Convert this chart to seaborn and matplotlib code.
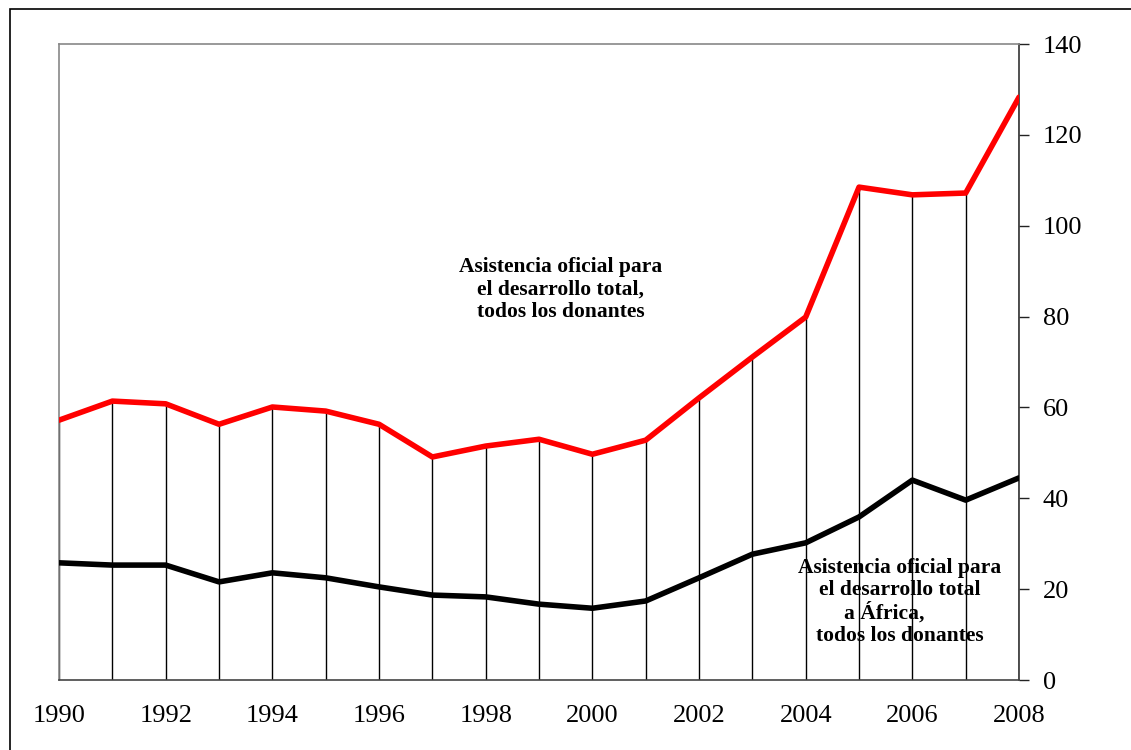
import numpy as np
import pandas as pd
import matplotlib.pyplot as plt
import seaborn as sns
from matplotlib.patches import Rectangle

years = list(range(1990, 2009))
aod_total = [57.2, 61.4, 60.8, 56.3, 60.1, 59.2, 56.3, 49.1, 51.5, 53.0, 49.7,
             52.8, 62.1, 71.1, 79.9, 108.5, 106.8, 107.2, 128.3]
aod_africa = [25.8, 25.3, 25.3, 21.6, 23.6, 22.5, 20.5, 18.7, 18.3, 16.7, 15.8,
              17.4, 22.5, 27.7, 30.2, 35.9, 44.0, 39.6, 44.5]
yticks = [0, 20, 40, 60, 80, 100, 120, 140]
xticklabels = [str(y) if y % 2 == 0 else "" for y in years]

label_total = "Asistencia oficial para\nel desarrollo total,\ntodos los donantes"
label_africa = "Asistencia oficial para\nel desarrollo total\na África,      \ntodos los donantes"

df = pd.DataFrame({"year": years, "total": aod_total, "africa": aod_africa})

sns.set_style("white")
plt.rcParams["font.family"] = ["Liberation Serif", "DejaVu Serif"]
plt.rcParams["text.color"] = "black"

fig = plt.figure(figsize=(11.31, 7.5), dpi=100)
ax = fig.add_axes([0.0522, 0.0933, 0.8488, 0.848])

# drop lines from the red series down to zero
ax.vlines(df["year"], 0, df["total"], color="black", lw=1.0, zorder=1)

sns.lineplot(data=df, x="year", y="total", color="#ff0000", lw=4, ax=ax, zorder=3)
sns.lineplot(data=df, x="year", y="africa", color="black", lw=4, ax=ax, zorder=3)

ax.set_xlim(1990, 2008)
ax.set_ylim(0, 140)
ax.set_xticks(years)
ax.set_xticklabels(xticklabels, fontsize=19)
ax.set_yticks(yticks)
ax.yaxis.tick_right()
ax.tick_params(axis="y", labelsize=19, direction="out", length=7, width=1, pad=10,
               left=False, right=True, labelleft=False, labelright=True,
               color="#222222", labelcolor="black")
ax.tick_params(axis="x", direction="out", length=8, width=1, pad=10,
               color="#333333", labelcolor="black")
ax.set_xlabel("")
ax.set_ylabel("")

ax.spines["top"].set_color("#888888")
ax.spines["left"].set_color("#888888")
ax.spines["right"].set_color("#333333")
ax.spines["bottom"].set_color("#444444")
for s in ax.spines.values():
    s.set_linewidth(1.2)

ax.text(1999.4, 86.0, label_total, ha="center", va="center", fontsize=15.5,
        fontweight="bold", linespacing=1.15, color="black")
ax.text(2005.77, 17.2, label_africa, ha="center", va="center", fontsize=15.5,
        fontweight="bold", linespacing=1.15, color="black")

fig.patches.append(Rectangle((10 / 1131, -0.05), 1.2, 0.05 + (750 - 9) / 750,
                             transform=fig.transFigure, fill=False,
                             edgecolor="black", lw=1.2))

fig.savefig("out.png", dpi=100)
